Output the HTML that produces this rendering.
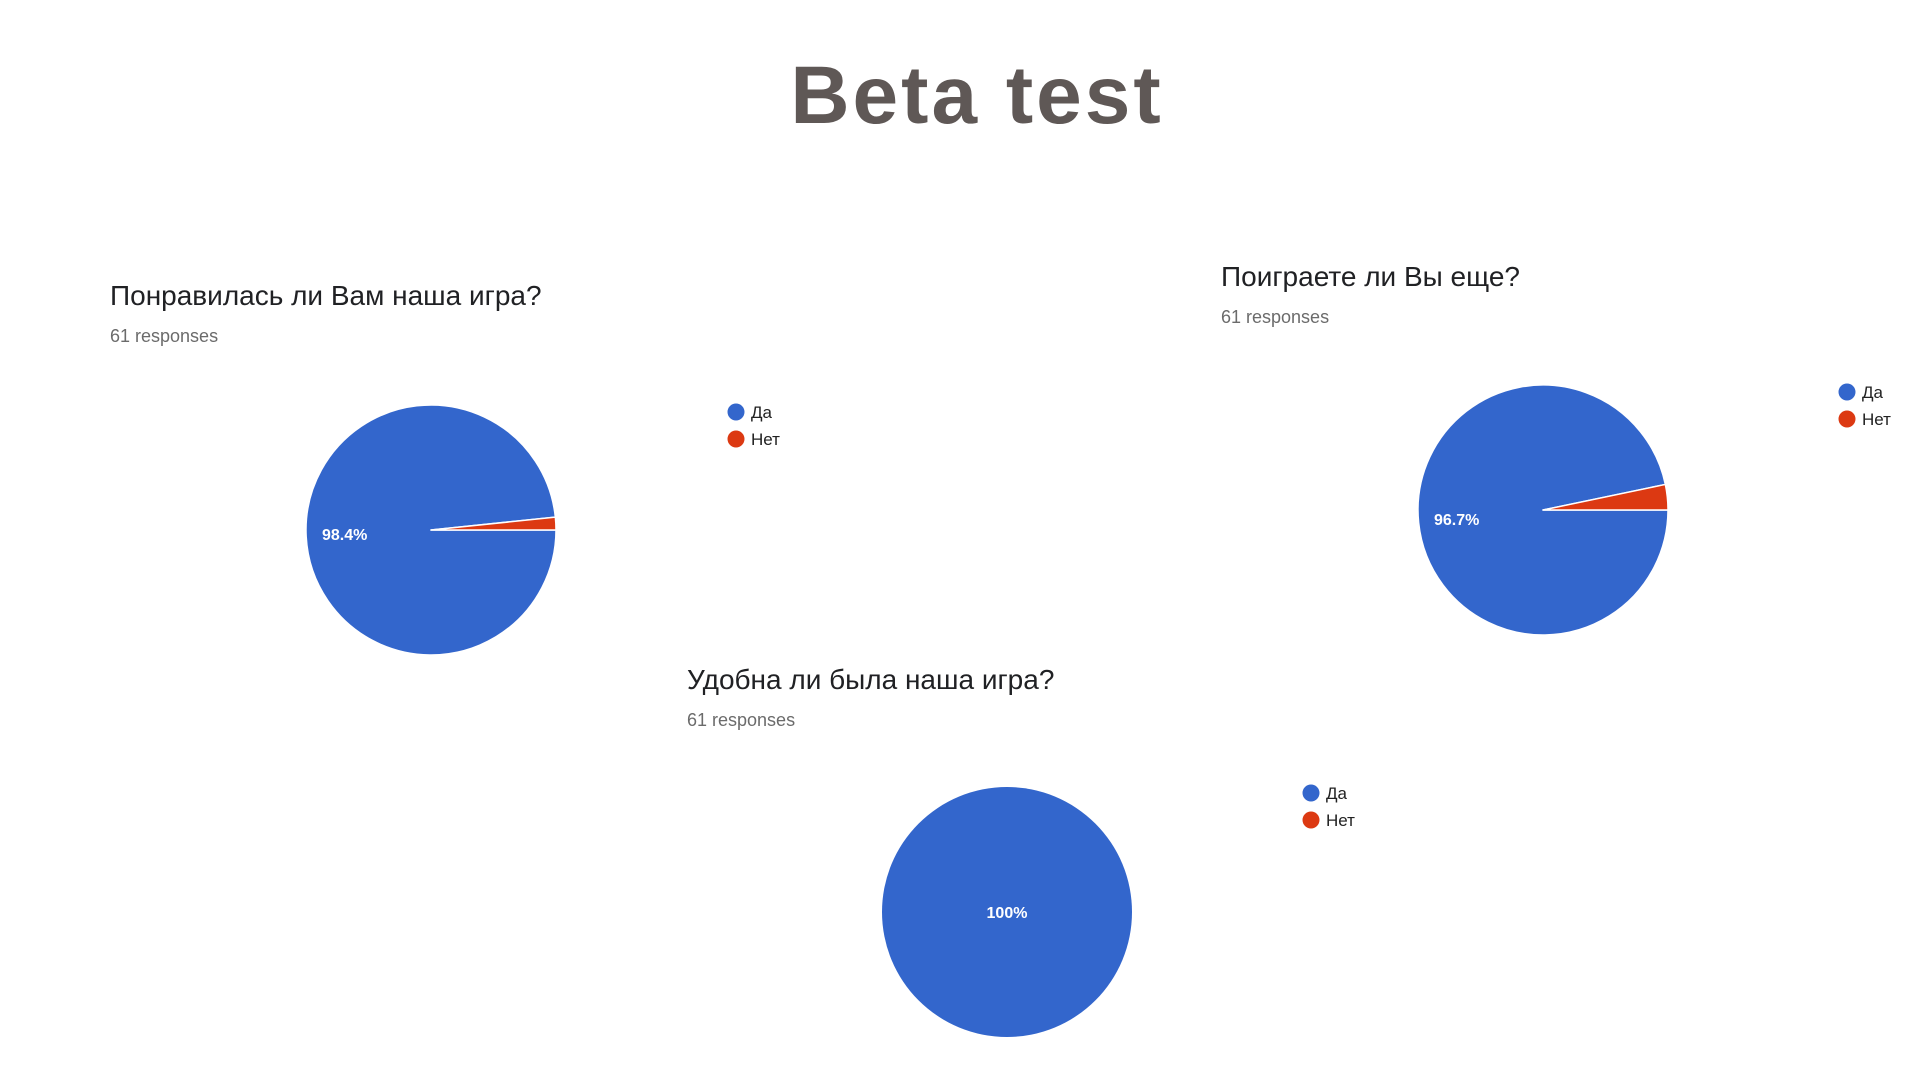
<!DOCTYPE html>
<html><head><meta charset="utf-8"><style>
html,body{margin:0;padding:0;background:#fff;width:1920px;height:1080px;overflow:hidden}
svg{display:block;font-family:"Liberation Sans",sans-serif}
</style></head><body>
<svg id="chart" width="1920" height="1080" viewBox="0 0 1920 1080">
<text x="977" y="123" text-anchor="middle" font-size="82" font-weight="bold" fill="#5f5856" letter-spacing="3">Beta test</text>
</svg>
<script>
const questions = ["Понравилась ли Вам наша игра?", "Поиграете ли Вы еще?", "Удобна ли была наша игра?"];
const responses = [61, 61, 61];
const categories = ["Да", "Нет"];
const yesValues = [60, 59, 61];
const noValues = [1, 2, 0];
const pctLabels = ["98.4%", "96.7%", "100%"];

const colors = ["#3366cc", "#dc3912"];
const layout = [
  {tx:110, ty:305, cx:431, cy:530, lx:736, ly:412, labx:322, laby:540},
  {tx:1221, ty:286, cx:1543, cy:510, lx:1847, ly:392, labx:1434, laby:525},
  {tx:687, ty:689, cx:1007, cy:912, lx:1311, ly:793, labx:null, laby:null}
];
const R = 125;
const NS = "http://www.w3.org/2000/svg";
const svg = document.getElementById('chart');
function mk(tag, attrs, parent){const e=document.createElementNS(NS,tag);for(const k in attrs)e.setAttribute(k,attrs[k]);(parent||svg).appendChild(e);return e;}
function pt(cx,cy,a){return [cx+R*Math.sin(a), cy-R*Math.cos(a)];}

questions.forEach((q,i)=>{
  const L = layout[i];
  const g = mk('g',{});
  
  
  const t = mk('text',{x:L.tx,y:L.ty,'font-size':28,fill:'#202124'},g);
  
  
  t.textContent = q;
  const r = mk('text',{x:L.tx,y:L.ty+37,'font-size':18,fill:'#6b6b6b'},g);
  
  
  r.textContent = responses[i] + ' responses';
  const vals = [yesValues[i], noValues[i]];
  const total = vals.reduce((a,b)=>a+b,0);
  let a0 = Math.PI/2;
  vals.forEach((v,j)=>{
    if(v<=0) return;
    const sweep = v/total*2*Math.PI;
    let el;
    if (v===total){
      el = mk('circle',{cx:L.cx,cy:L.cy,r:R,fill:colors[j]},g);
    } else {
      const p0 = pt(L.cx,L.cy,a0), p1 = pt(L.cx,L.cy,a0+sweep);
      el = mk('path',{d:`M${L.cx},${L.cy} L${p0[0]},${p0[1]} A${R},${R} 0 ${sweep>Math.PI?1:0} 1 ${p1[0]},${p1[1]} Z`,fill:colors[j],stroke:'#fff','stroke-width':1.5,'stroke-linejoin':'round'},g);
    }
    
    
    a0 += sweep;
  });
  const lab = mk('text',{x:L.labx===null?L.cx:L.labx,y:L.laby===null?L.cy+6:L.laby,'font-size':16,'font-weight':'bold',fill:'#fff','text-anchor':L.labx===null?'middle':'start'},g);
  
  
  lab.textContent = pctLabels[i];
  categories.forEach((c,j)=>{
    const le = mk('g',{},g);
    
    
    mk('circle',{cx:L.lx,cy:L.ly+j*27,r:8.5,fill:colors[j]},le);
    const lt = mk('text',{x:L.lx+15,y:L.ly+j*27+6,'font-size':17,fill:'#222'},le);
    lt.textContent = c;
  });
});
</script>
</body></html>
